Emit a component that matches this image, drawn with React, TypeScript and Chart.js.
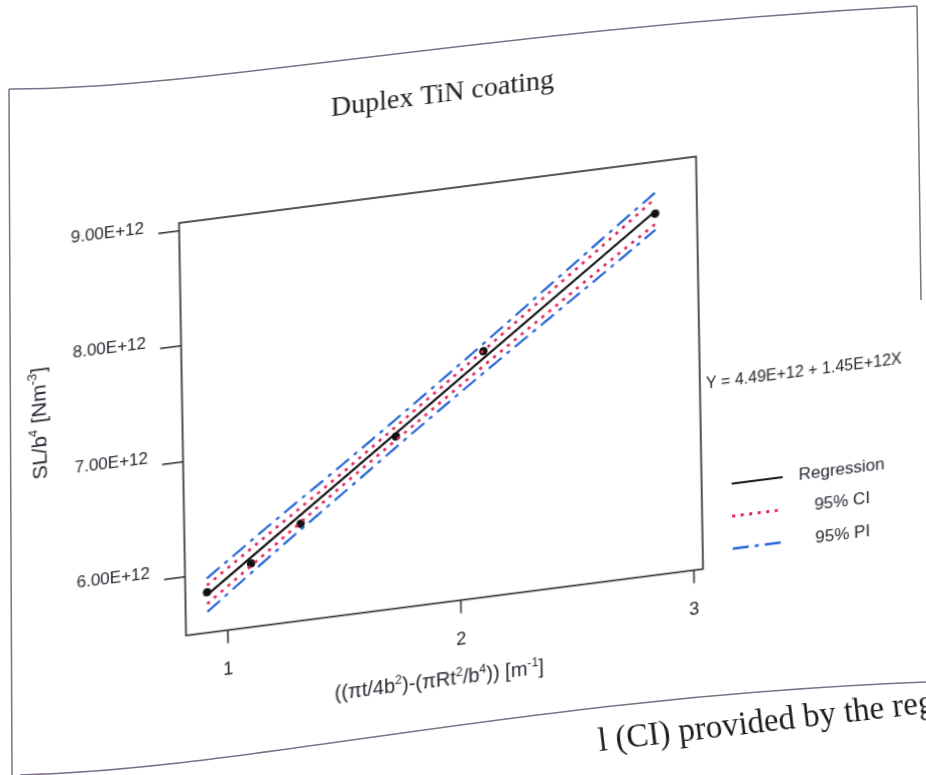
import React, { useEffect, useRef } from "react";
import { Chart, registerables } from "chart.js";

Chart.register(...registerables);

// Measured specimens
const OBS_X = [0.915, 1.106, 1.321, 1.735, 2.116, 2.862];
const OBS_Y = [5.84e12, 6.04e12, 6.33e12, 6.98e12, 7.62e12, 8.62e12];

// Fitted regression  Y = a + bX
const INTERCEPT = 4.49e12;
const SLOPE = 1.45e12;

// Confidence / prediction bands sampled along X
const BAND_X = [0.915, 1.2, 1.5, 1.8, 2.1, 2.4, 2.7, 2.862];
const CI_UPPER = [5.9e12, 6.3e12, 6.72e12, 7.16e12, 7.6e12, 8.05e12, 8.5e12, 8.75e12];
const CI_LOWER = [5.74e12, 6.16e12, 6.61e12, 7.04e12, 7.47e12, 7.89e12, 8.31e12, 8.53e12];
const PI_UPPER = [5.96e12, 6.37e12, 6.79e12, 7.22e12, 7.66e12, 8.11e12, 8.56e12, 8.8e12];
const PI_LOWER = [5.67e12, 6.1e12, 6.54e12, 6.98e12, 7.41e12, 7.83e12, 8.25e12, 8.48e12];

const X_TICKS = [1, 2, 3];
const Y_TICKS = [6e12, 7e12, 8e12, 9e12];

const TITLE = "Duplex TiN coating";
const LEGEND_LABELS = ["Regression", "95% CI", "95% PI"];

const INK = "#28252f";
const RED = "#e0225a";
const BLUE = "#2363d6";
const SANS = "'Liberation Sans', Arial, sans-serif";
const SERIF = "'Liberation Serif', 'Times New Roman', serif";

const CI_DASH = [3, 5.5];
const PI_DASH = [16, 6, 4, 6];

const fmtE = (v: number) => v.toExponential(2).toUpperCase();

const pts = (xs: number[], ys: number[]) => xs.map((x, i) => ({ x, y: ys[i] }));

type Seg = { t: string; sup?: boolean };

function drawRich(
  ctx: CanvasRenderingContext2D,
  segs: Seg[],
  cx: number,
  cy: number,
  size: number,
  rotation: number
) {
  ctx.save();
  ctx.translate(cx, cy);
  ctx.rotate(rotation);
  const supSize = size * 0.62;
  const widths = segs.map((s) => {
    ctx.font = `${s.sup ? supSize : size}px ${SANS}`;
    return ctx.measureText(s.t).width;
  });
  const total = widths.reduce((a, b) => a + b, 0);
  let x = -total / 2;
  const base = size * 0.36;
  ctx.fillStyle = INK;
  ctx.textAlign = "left";
  ctx.textBaseline = "alphabetic";
  segs.forEach((s, i) => {
    ctx.font = `${s.sup ? supSize : size}px ${SANS}`;
    ctx.fillText(s.t, x, s.sup ? base - size * 0.42 : base);
    x += widths[i];
  });
  ctx.restore();
}

const Y_TITLE: Seg[] = [
  { t: "SL/b" },
  { t: "4", sup: true },
  { t: " [Nm" },
  { t: "-3", sup: true },
  { t: "]" },
];

const X_TITLE: Seg[] = [
  { t: "((\u03c0t/4b" },
  { t: "2", sup: true },
  { t: ")-(\u03c0Rt" },
  { t: "2", sup: true },
  { t: "/b" },
  { t: "4", sup: true },
  { t: ")) [m" },
  { t: "-1", sup: true },
  { t: "]" },
];

const decorations = {
  id: "decorations",
  afterDraw(chart: Chart) {
    const { ctx, chartArea: a } = chart;
    ctx.save();

    // plot frame
    ctx.strokeStyle = INK;
    ctx.lineWidth = 1.6;
    ctx.setLineDash([]);
    ctx.strokeRect(a.left, a.top, a.right - a.left, a.bottom - a.top);

    // title
    ctx.fillStyle = "#1e1c22";
    ctx.font = `28px ${SERIF}`;
    ctx.textAlign = "center";
    ctx.textBaseline = "middle";
    ctx.fillText(TITLE, 444, 129);

    // axis titles
    drawRich(ctx, Y_TITLE, 35, 405, 21, -Math.PI / 2);
    drawRich(ctx, X_TITLE, 431, 712, 20, 0);

    // regression equation
    ctx.fillStyle = INK;
    ctx.font = `16px ${SANS}`;
    ctx.textAlign = "left";
    ctx.textBaseline = "middle";
    ctx.fillText(`Y = ${fmtE(INTERCEPT)} + ${fmtE(SLOPE)}X`, 702, 452);

    // legend
    const styles = [
      { color: "#111", dash: [] as number[], width: 2.2 },
      { color: RED, dash: CI_DASH, width: 2.8 },
      { color: BLUE, dash: PI_DASH, width: 2.3 },
    ];
    LEGEND_LABELS.forEach((label, i) => {
      const y = 554 + i * 32.5;
      const s = styles[i];
      ctx.beginPath();
      ctx.strokeStyle = s.color;
      ctx.lineWidth = s.width;
      ctx.setLineDash(s.dash);
      ctx.moveTo(726, y);
      ctx.lineTo(777, y);
      ctx.stroke();
      ctx.setLineDash([]);
      ctx.fillStyle = INK;
      ctx.font = `17px ${SANS}`;
      ctx.textAlign = "center";
      ctx.textBaseline = "middle";
      ctx.fillText(label, 836, y);
    });
    ctx.restore();
  },
};

export default function App() {
  const ref = useRef<HTMLCanvasElement>(null);

  useEffect(() => {
    const canvas = ref.current;
    if (!canvas) return;
    const regX = [OBS_X[0], OBS_X[OBS_X.length - 1]];
    const regY = regX.map((x) => INTERCEPT + SLOPE * x);

    const band = (data: { x: number; y: number }[], color: string, dash: number[], width: number) => ({
      data,
      showLine: true,
      borderColor: color,
      borderWidth: width,
      borderDash: dash,
      pointRadius: 0,
      cubicInterpolationMode: "monotone" as const,
      fill: false,
    });

    const chart = new Chart(canvas, {
      type: "scatter",
      data: {
        datasets: [
          band(pts(BAND_X, PI_UPPER), BLUE, PI_DASH, 2.3),
          band(pts(BAND_X, PI_LOWER), BLUE, PI_DASH, 2.3),
          band(pts(BAND_X, CI_UPPER), RED, CI_DASH, 2.8),
          band(pts(BAND_X, CI_LOWER), RED, CI_DASH, 2.8),
          {
            data: pts(regX, regY),
            showLine: true,
            borderColor: "#111",
            borderWidth: 2.2,
            pointRadius: 0,
          },
          {
            data: pts(OBS_X, OBS_Y),
            showLine: false,
            pointRadius: 3.8,
            pointBackgroundColor: "#111",
            pointBorderColor: "#111",
            pointBorderWidth: 1,
          },
        ],
      },
      options: {
        animation: false,
        responsive: false,
        devicePixelRatio: 1,
        layout: { padding: { left: 0, right: 230, top: 223, bottom: 79.5 } },
        plugins: {
          legend: { display: false },
          title: { display: false },
          tooltip: { enabled: false },
        },
        scales: {
          x: {
            type: "linear",
            min: 0.822,
            max: 3.041,
            afterFit: (s: any) => {
              s.height = 60;
            },
            afterBuildTicks: (s: any) => {
              s.ticks = X_TICKS.map((value) => ({ value }));
            },
            border: { display: false },
            grid: {
              drawOnChartArea: false,
              drawTicks: true,
              tickLength: 13,
              color: INK,
              lineWidth: 1.5,
            },
            ticks: {
              padding: 16,
              color: INK,
              font: { family: SANS, size: 18 },
              callback: (v: any) => String(v),
            },
          },
          y: {
            type: "linear",
            min: 5.489e12,
            max: 9.069e12,
            afterFit: (s: any) => {
              s.width = 179;
            },
            afterBuildTicks: (s: any) => {
              s.ticks = Y_TICKS.map((value) => ({ value }));
            },
            border: { display: false },
            grid: {
              drawOnChartArea: false,
              drawTicks: true,
              tickLength: 21,
              color: INK,
              lineWidth: 1.5,
            },
            ticks: {
              padding: 14,
              labelOffset: -7,
              color: INK,
              font: { family: SANS, size: 17 },
              callback: (v: any) => fmtE(Number(v)),
            },
          },
        },
      },
      plugins: [decorations],
    });
    return () => chart.destroy();
  }, []);

  return (
    <div
      style={{
        position: "absolute",
        left: 0,
        top: 0,
        width: 926,
        height: 775,
        overflow: "hidden",
        background: "#fff",
      }}
    >
      <svg
        width={926}
        height={775}
        style={{ position: "absolute", left: 0, top: 0 }}
      >
        <g fill="none" stroke="#7e7088" strokeWidth={1.5}>
          <path d="M 9 89 C 200 90, 480 30, 917 6" />
          <path d="M 917 6 L 921 300" />
          <path d="M 9 89 L 12 775" />
          <path d="M 20 775 C 260 768, 520 698, 926 682" />
        </g>
      </svg>
      <div
        style={{
          position: "absolute",
          left: 0,
          top: 0,
          width: 926,
          height: 775,
          transform: "matrix(1, -0.1286, 0.017, 1, 0, 0)",
          transformOrigin: "179px 223px",
        }}
      >
        <canvas
          ref={ref}
          width={926}
          height={775}
          style={{ width: 926, height: 775, display: "block" }}
        />
      </div>
      <div
        style={{
          position: "absolute",
          left: 600,
          top: 724,
          fontFamily: SERIF,
          fontSize: 33,
          lineHeight: 1,
          whiteSpace: "nowrap",
          color: "#1e1c22",
          transform: "rotate(-6.6deg)",
          transformOrigin: "0 100%",
        }}
      >
        l (CI) provided by the regression
      </div>
    </div>
  );
}
